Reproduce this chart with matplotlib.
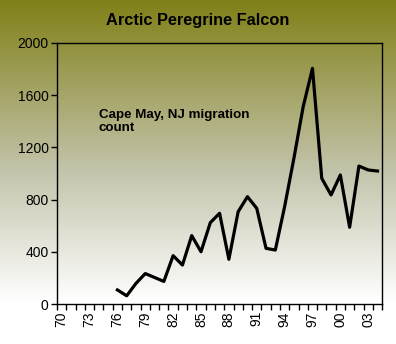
"""Arctic Peregrine Falcon counts, Cape May NJ."""

import matplotlib.pyplot as plt
import numpy as np
from matplotlib.colors import LinearSegmentedColormap

plt.rcParams["font.family"] = ["Liberation Sans", "DejaVu Sans"]

# one category per year, 1970-2004
years = list(range(1970, 2005))
tick_labels = [f"{y % 100:02d}" for y in years]

# counts start in 1976
count_years = list(range(1976, 2005))
counts = [
    110, 65, 160, 235, 205, 175, 372, 300, 525, 402,
    624, 696, 344, 708, 823, 734, 428, 415, 746, 1116,
    1511, 1804, 963, 836, 989, 589, 1057, 1027, 1019,
]

TOP_COLOR = "#808018"
MID_COLOR = "#c4c4ac"
BOTTOM_COLOR = "#ffffff"

fig = plt.figure(figsize=(3.96, 3.44), dpi=100)

# gradient background over the whole figure
bg = fig.add_axes([0, 0, 1, 1], zorder=-1)
cmap = LinearSegmentedColormap.from_list(
    "bg", [(0, TOP_COLOR), (0.5, MID_COLOR), (0.88, BOTTOM_COLOR), (1, BOTTOM_COLOR)]
)
grad = np.linspace(0, 1, 256).reshape(-1, 1)
bg.imshow(grad, aspect="auto", cmap=cmap, extent=[0, 1, 1, 0])
bg.set_axis_off()

ax = fig.add_axes([0.144, 0.1154, 0.821, 0.7604])
ax.set_facecolor("none")

x = [years.index(y) for y in count_years]
ax.plot(x, counts, color="black", linewidth=2.3, solid_joinstyle="round")

ax.set_xlim(-0.5, len(years) - 0.5)
ax.set_ylim(0, 2000)
ax.set_yticks(range(0, 2001, 400))
ax.tick_params(axis="y", direction="out", length=4, width=1, labelsize=10, pad=2)

ax.set_xticks(range(0, len(years), 3))
ax.set_xticklabels(tick_labels[::3], rotation=90)
ax.set_xticks(np.arange(-0.5, len(years), 1), minor=True)
ax.tick_params(axis="x", which="major", length=0, labelsize=10, pad=5)
ax.tick_params(axis="x", which="minor", direction="out", length=4, width=1)

for s in ax.spines.values():
    s.set_linewidth(1)

ax.text(
    0.128, 0.748, "Cape May, NJ migration\ncount",
    transform=ax.transAxes, fontsize=9.6, fontweight="bold",
    va="top", ha="left", linespacing=1.1,
)

fig.text(0.5, 0.94, "Arctic Peregrine Falcon", ha="center", va="center",
         fontsize=11.8, fontweight="bold")

fig.savefig("out.png", dpi=100)
